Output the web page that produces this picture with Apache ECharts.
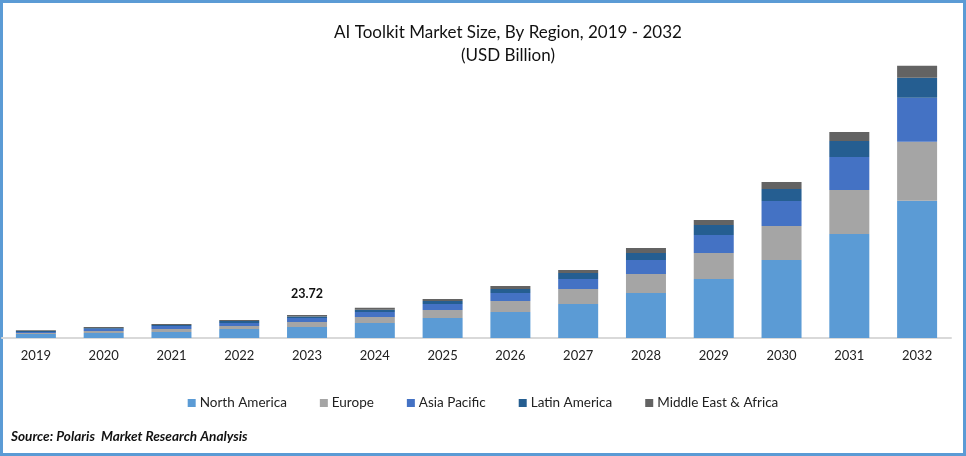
<!DOCTYPE html>
<html>
<head>
<meta charset="utf-8">
<style>
  html, body { margin: 0; padding: 0; background: #fff; }
  #chart { width: 966px; height: 456px; }
</style>
<script src="https://cdn.jsdelivr.net/npm/echarts@6/dist/echarts.min.js"></script>
</head>
<body>
<div id="chart"></div>
<script>
const years = ['2019', '2020', '2021', '2022', '2023', '2024', '2025', '2026', '2027', '2028', '2029', '2030', '2031', '2032'];
const northAmerica = [4.1, 5.2, 6.2, 9.3, 11.32, 15.5, 20.6, 26.8, 35, 46.4, 60.8, 80.3, 107.1, 141.4];
const europe = [1, 2.1, 3.1, 3.1, 5.2, 6.2, 8.2, 11.3, 15.5, 19.6, 26.8, 35, 45.3, 60.8];
const asiaPacific = [1, 2.1, 3.1, 3.1, 4.1, 5.2, 6.2, 8.2, 10.3, 14.4, 18.5, 25.8, 34, 45.3];
const latinAmerica = [1, 1, 1, 2.1, 1.5, 2.1, 3.1, 4.1, 6.2, 7.2, 10.3, 12.4, 16.5, 20.6];
const middleEastAfrica = [1, 1, 1, 1, 1.6, 2.1, 2.1, 3.1, 3.1, 5.2, 5.2, 7.2, 9.3, 12.4];
const labelledYear = '2023';
const labelledTotal = '23.72';

const font = 'Lato';
const chart = echarts.init(document.getElementById('chart'));

function barSeries(name, data, color) {
  return { name: name, type: 'bar', stack: 'total', barWidth: 40, data: data, itemStyle: { color: color } };
}

const series = [
  barSeries('North America', northAmerica, '#5B9BD5'),
  barSeries('Europe', europe, '#A5A5A5'),
  barSeries('Asia Pacific', asiaPacific, '#4472C4'),
  barSeries('Latin America', latinAmerica, '#255E91'),
  barSeries('Middle East & Africa', middleEastAfrica, '#636363')
];

// only one total is printed in the source chart
series[4].label = {
  show: true,
  position: 'top',
  distance: 15,
  fontFamily: font,
  fontSize: 12.5,
  fontWeight: 'bold',
  color: '#111',
  formatter: function (p) { return p.name === labelledYear ? labelledTotal : ''; }
};

chart.setOption({
  backgroundColor: '#ffffff',
  animation: false,
  title: [{
    text: 'AI Toolkit Market Size, By Region, 2019 - 2032\n(USD Billion)',
    left: 503,
    textAlign: 'center',
    top: 16,
    textStyle: { fontFamily: font, fontSize: 17, fontWeight: 'normal', color: '#111', lineHeight: 23 }
  }, {
    text: 'Source: Polaris  Market Research Analysis',
    left: 6,
    top: 425,
    textStyle: { fontFamily: font, fontSize: 13.6, fontWeight: 'bold', fontStyle: 'italic', color: '#111' }
  }],
  legend: {
    left: 'center',
    top: 391,
    itemWidth: 8,
    itemHeight: 8,
    itemGap: 33,
    icon: 'rect',
    textStyle: { fontFamily: font, fontSize: 13.5, color: '#222', padding: [0, 0, 0, -1] }
  },
  grid: { left: 2, width: 949, top: 38, height: 300 },
  xAxis: {
    type: 'category',
    data: years,
    axisLine: { lineStyle: { color: '#D9D9D9', width: 2 } },
    axisTick: { show: false },
    axisLabel: { fontFamily: font, fontSize: 13, color: '#222', margin: 11 }
  },
  yAxis: { type: 'value', min: 0, max: 309, show: false, splitLine: { show: false } },
  graphic: [{
    type: 'rect',
    shape: { x: 1.5, y: 1.5, width: 963, height: 453 },
    style: { fill: 'none', stroke: '#5B9BD5', lineWidth: 3 },
    silent: true
  }],
  series: series
});
</script>
</body>
</html>
